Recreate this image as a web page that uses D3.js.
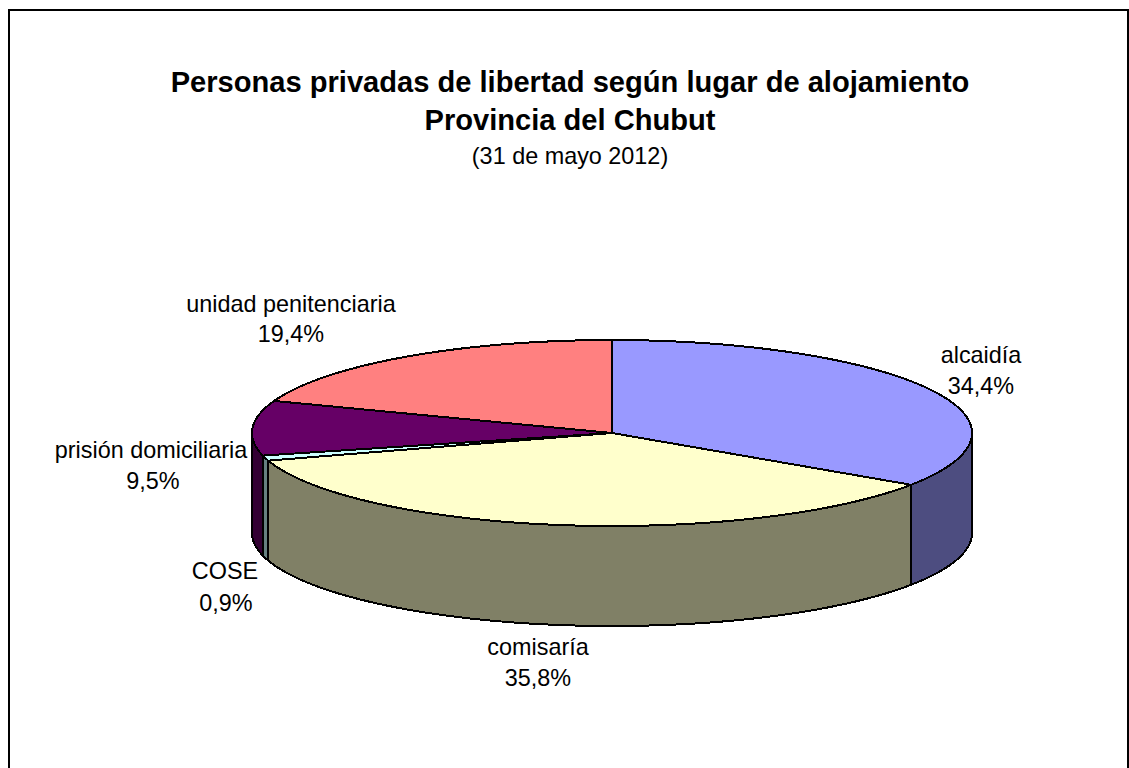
<!DOCTYPE html>
<html><head><meta charset="utf-8">
<script src="https://cdn.jsdelivr.net/npm/d3@7/dist/d3.min.js"></script>
<style>html,body{margin:0;padding:0;background:#fff;overflow:hidden}svg{display:block}text{font-family:"Liberation Sans",Arial,sans-serif;fill:#000}</style>
</head><body><svg id="c" width="1129" height="768"></svg>
<script>
const categories=["alcaidía","comisaría","COSE","prisión domiciliaria","unidad penitenciaria"];
const values=[34.4,35.8,0.9,9.5,19.4];
const valueLabels=["34,4%","35,8%","0,9%","9,5%","19,4%"];
const topColors=["#9999ff","#ffffcc","#ccffff","#660066","#ff8080"];
const sideColors=["#4d4d80","#808066","#668080","#330033","#804040"];
const titleLines=["Personas privadas de libertad según lugar de alojamiento","Provincia del Chubut"];
const subtitle="(31 de mayo 2012)";
const labelAnchors=[[981,363],[538,655],[225,579],[151,458],[291,312]];
const valueGaps=[31,31,32,31,30];
const valueShift=[0,0,1,2,0];

const svg=d3.select("#c");
svg.append("path").attr("d","M9,768V10H1128V768").attr("fill","none").attr("stroke","#000").attr("stroke-width",2);

const cx=612,cy=433,rx=360,ry=93,depth=100;
const sx=d3.scaleLinear().domain([-1,1]).range([cx-rx,cx+rx]);
const sy=d3.scaleLinear().domain([-1,1]).range([cy-ry,cy+ry]);
const px=a=>sx(Math.sin(a)), py=a=>sy(-Math.cos(a));
const arcs=d3.pie().sort(null).value(d=>d)(values);
const line=d3.line();
const samples=(a,b)=>{const n=Math.max(2,Math.ceil(Math.abs(b-a)*60));return d3.range(n+1).map(i=>a+(b-a)*i/n);};

const g=svg.append("g").attr("stroke","#000").attr("stroke-width",2).attr("stroke-linejoin","round").attr("shape-rendering","crispEdges");
const H=Math.PI/2;
arcs.forEach((d,i)=>{
  const a=Math.max(d.startAngle,H),b=Math.min(d.endAngle,3*H);
  if(b<=a)return;
  const s=samples(a,b);
  const pts=s.map(t=>[px(t),py(t)]).concat(s.slice().reverse().map(t=>[px(t),py(t)+depth]));
  g.append("path").attr("d",line(pts)+"Z").attr("fill",sideColors[i]);
});
arcs.forEach((d,i)=>{
  const pts=[[sx(0),sy(0)]].concat(samples(d.startAngle,d.endAngle).map(t=>[px(t),py(t)]));
  g.append("path").attr("d",line(pts)+"Z").attr("fill",topColors[i]);
});

svg.selectAll("text.t").data(titleLines).join("text").attr("class","t")
  .attr("x",570).attr("y",(d,i)=>92+i*37.5).attr("text-anchor","middle")
  .attr("font-size",29.1).attr("font-weight","bold").text(d=>d);
svg.append("text").attr("x",570).attr("y",163.5).attr("text-anchor","middle").attr("font-size",23.4).text(subtitle);

categories.forEach((c,i)=>{
  const [x,y]=labelAnchors[i];
  const t=svg.append("text").attr("text-anchor","middle").attr("font-size",23.4);
  t.append("tspan").attr("x",x).attr("y",y).text(c);
  t.append("tspan").attr("x",x+valueShift[i]).attr("y",y+valueGaps[i]).text(valueLabels[i]);
});
</script></body></html>
